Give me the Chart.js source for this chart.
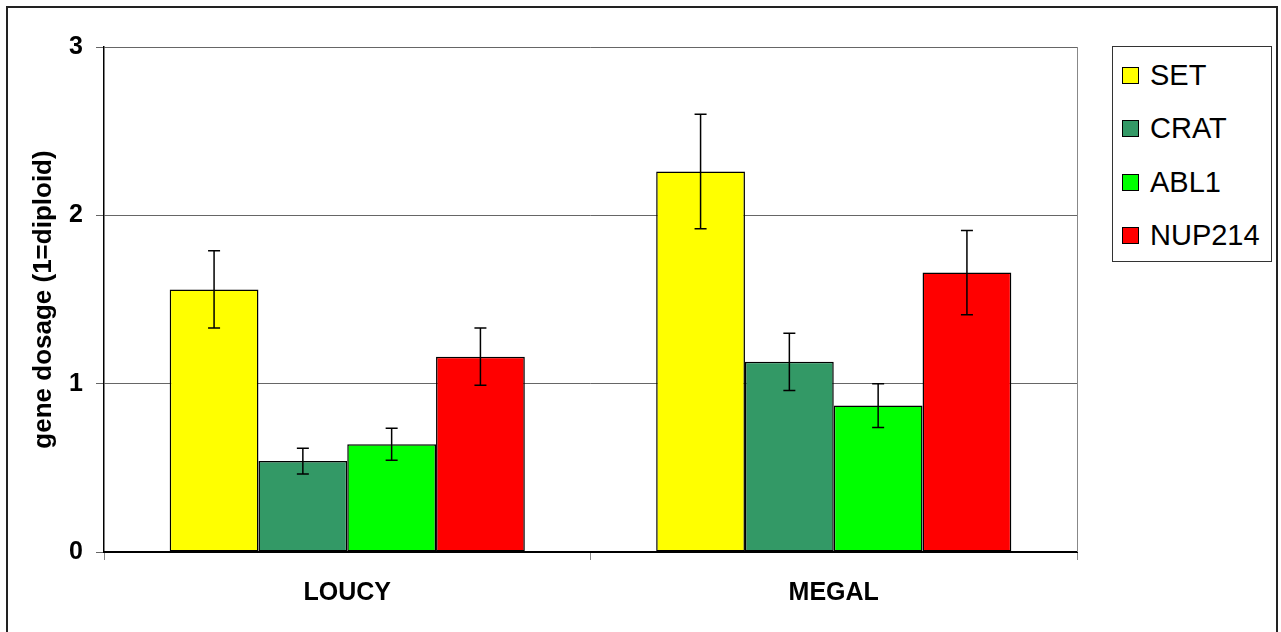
<!DOCTYPE html>
<html>
<head>
<meta charset="utf-8">
<script src="https://cdn.jsdelivr.net/npm/chart.js@4"></script>
<style>
  body { margin: 0; background: #fff; font-family: "Liberation Sans", Arial, sans-serif; }
  #wrap { position: relative; width: 1281px; height: 632px; overflow: hidden; }
  #marco { position: absolute; left: 6px; top: 6px; width: 1268px; height: 700px; border: 2px solid #222; }
  #myChart { position: absolute; left: 0; top: 0; }
  #leyenda { position: absolute; left: 1112px; top: 46px; width: 158px; height: 214px; border: 1px solid #333; background: #fff; }
  .item { position: absolute; left: 9px; height: 34px; display: flex; align-items: center; font-size: 29px; color: #000; white-space: nowrap; }
  .caja { width: 15px; height: 15px; border: 1px solid #000; margin-right: 11px; flex: none; }
</style>
</head>
<body>
<div id="wrap">
  <div id="marco"></div>
  <canvas id="myChart" width="1281" height="632"></canvas>
  <div id="leyenda"></div>
</div>
<script>
const lineas = ["LOUCY", "MEGAL"];
const genes = ["SET", "CRAT", "ABL1", "NUP214"];
const colores = ["#ffff00", "#339966", "#00ff00", "#ff0000"];
const valSET = [1.56, 2.26];
const valCRAT = [0.54, 1.13];
const valABL1 = [0.64, 0.87];
const valNUP214 = [1.16, 1.66];
const errSET = [0.23, 0.34];
const errCRAT = [0.077, 0.17];
const errABL1 = [0.095, 0.13];
const errNUP214 = [0.17, 0.25];
const ticksY = [0, 1, 2, 3];

const valores = [valSET, valCRAT, valABL1, valNUP214];
const errores = [errSET, errCRAT, errABL1, errNUP214];

// leyenda en html
let html = "";
genes.forEach((g, i) => {
  html += `<div class="item" style="top:${11 + i * 53.5}px"><span class="caja" style="background:${colores[i]}"></span>${g}</div>`;
});
document.querySelector("#leyenda").innerHTML = html;

// barras de error
const barrasError = {
  id: "barrasError",
  afterDatasetsDraw(chart) {
    const ctx = chart.ctx;
    const y = chart.scales.y;
    ctx.save();
    ctx.strokeStyle = "#000";
    ctx.lineWidth = 1.5;
    chart.data.datasets.forEach((ds, i) => {
      const meta = chart.getDatasetMeta(i);
      meta.data.forEach((bar, j) => {
        const v = ds.data[j], e = errores[i][j];
        const y1 = y.getPixelForValue(v + e), y2 = y.getPixelForValue(v - e);
        ctx.beginPath();
        ctx.moveTo(bar.x, y1); ctx.lineTo(bar.x, y2);
        ctx.moveTo(bar.x - 6, y1); ctx.lineTo(bar.x + 6, y1);
        ctx.moveTo(bar.x - 6, y2); ctx.lineTo(bar.x + 6, y2);
        ctx.stroke();
      });
    });
    // borde derecho del area
    const a = chart.chartArea;
    ctx.strokeStyle = "#888";
    ctx.lineWidth = 1;
    ctx.beginPath();
    ctx.moveTo(a.right + 0.5, a.top); ctx.lineTo(a.right + 0.5, a.bottom);
    ctx.stroke();
    ctx.restore();
  }
};

const fuenteEje = { family: "Liberation Sans", size: 25, weight: "bold" };

const config = {
  type: "bar",
  data: {
    labels: lineas,
    datasets: genes.map((g, i) => ({
      label: g,
      data: valores[i],
      backgroundColor: colores[i],
      borderColor: "#000",
      borderWidth: 1.5,
      borderSkipped: false,
      categoryPercentage: 0.73,
      barPercentage: 1.0,
    })),
  },
  options: {
    responsive: false,
    animation: false,
    layout: { padding: { left: 28, right: 204, top: 47, bottom: 0 } },
    plugins: { legend: { display: false }, tooltip: { enabled: false } },
    scales: {
      x: {
        grid: { drawOnChartArea: false, tickLength: 8, color: "#888", offset: true },
        border: { color: "#000", width: 2 },
        ticks: { padding: 18, color: "#000", font: fuenteEje },
        afterFit: (s) => { s.height = 80; },
      },
      y: {
        min: 0, max: 3,
        afterBuildTicks: (s) => { s.ticks = ticksY.map((v) => ({ value: v })); },
        grid: { color: "#666", lineWidth: 1, tickLength: 8 },
        border: { color: "#000", width: 1.5 },
        ticks: { padding: 13, color: "#000", font: fuenteEje },
        title: {
          display: true,
          text: "gene dosage (1=diploid)",
          color: "#000",
          padding: { top: 0, bottom: 0 },
          font: { family: "Liberation Sans", size: 26, weight: "bold" },
        },
        afterFit: (s) => { s.width = 76; },
      },
    },
  },
  plugins: [barrasError],
};

new Chart(document.getElementById("myChart"), config);
</script>
</body>
</html>
